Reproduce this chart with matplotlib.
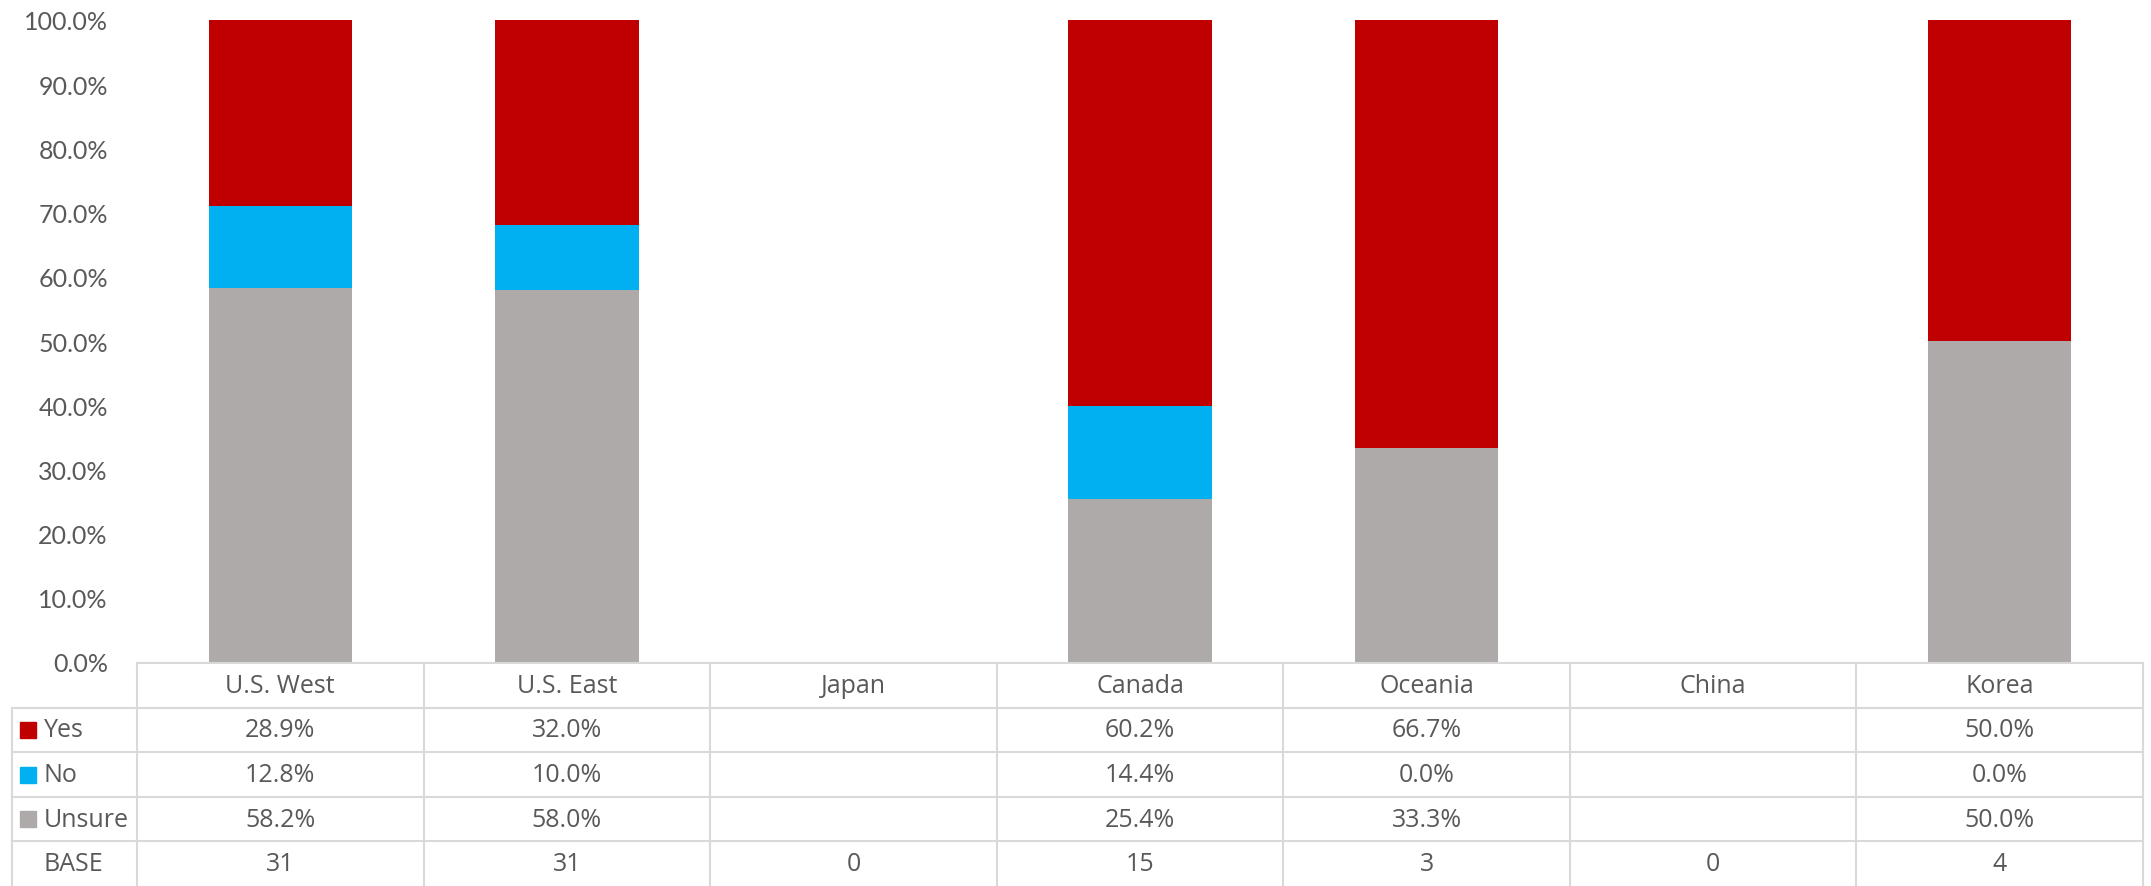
import matplotlib.pyplot as plt
import numpy as np

# data
regions = ["U.S. West", "U.S. East", "Japan", "Canada", "Oceania", "China", "Korea"]
yes = [28.9, 32.0, None, 60.2, 66.7, None, 50.0]
no = [12.8, 10.0, None, 14.4, 0.0, None, 0.0]
unsure = [58.2, 58.0, None, 25.4, 33.3, None, 50.0]
base = [31, 31, 0, 15, 3, 0, 4]
yticks = [0, 10, 20, 30, 40, 50, 60, 70, 80, 90, 100]

c_yes = "#C00000"
c_no = "#00B0F0"
c_unsure = "#AEAAAA"
txt = "#595959"
grid = "#D9D9D9"

W, H = 2151, 887
fig = plt.figure(figsize=(W / 100, H / 100), dpi=100)

# main plot area (pixel box 137..2143, 21..663)
ax = fig.add_axes([137 / W, (H - 663) / H, (2143 - 137) / W, (663 - 21) / H])
x = np.arange(len(regions))


def num(v):
    return np.array([np.nan if a is None else a for a in v])


# 100% stacked, like the excel chart
tot = num(yes) + num(no) + num(unsure)
u = num(unsure) / tot
n = num(no) / tot
y = num(yes) / tot
ax.bar(x, u, width=0.5, color=c_unsure)
ax.bar(x, n, width=0.5, bottom=u, color=c_no)
ax.bar(x, y, width=0.5, bottom=u + n, color=c_yes)

ax.set_xlim(-0.5, len(regions) - 0.5)
ax.set_ylim(0, 1)
ax.set_yticks([t / 100 for t in yticks])
ax.set_yticklabels(["%.1f%%" % t for t in yticks], fontsize=18, color=txt, family="Lato")
ax.tick_params(axis="y", length=0, pad=21)
ax.set_xticks([])
for s in ax.spines.values():
    s.set_visible(False)

# data table below
colw = (2143 - 137) / len(regions)  # px per category
legw = (137 - 12) / colw
tab = fig.add_axes([12 / W, 0, (2143 - 12) / W, (887 - 664) / H])
tab.set_xlim(-0.5 - legw, len(regions) - 0.5)
tab.set_ylim(5, 0)
tab.axis("off")

lw = 1.5
left = -0.5 - legw
right = len(regions) - 0.5
tab.plot([-0.5, right], [0, 0], color=grid, lw=lw, clip_on=False)
for r in range(1, 5):
    tab.plot([left, right], [r, r], color=grid, lw=lw, clip_on=False)
tab.plot([left, left], [1, 5], color=grid, lw=lw, clip_on=False)
for i in range(len(regions) + 1):
    tab.plot([i - 0.5, i - 0.5], [0, 5], color=grid, lw=lw, clip_on=False)

for i, name in enumerate(regions):
    tab.text(i, 0.5, name, ha="center", va="center", fontsize=18, color=txt, family="Open Sans")

rows = [("Yes", yes, c_yes), ("No", no, c_no), ("Unsure", unsure, c_unsure)]
mx = left + 16 / colw
tx = left + 32 / colw
for r, (label, vals, col) in enumerate(rows, start=1):
    tab.plot([mx], [r + 0.5], marker="s", ms=11.5, color=col, clip_on=False)
    tab.text(tx, r + 0.5, label, ha="left", va="center", fontsize=18, color=txt, family="Open Sans")
    for i, v in enumerate(vals):
        if v is not None:
            tab.text(i, r + 0.5, "%.1f%%" % v, ha="center", va="center", fontsize=18,
                     color=txt, family="Open Sans")

tab.text(tx, 4.5, "BASE", ha="left", va="center", fontsize=18, color=txt, family="Open Sans")
for i, b in enumerate(base):
    tab.text(i, 4.5, str(b), ha="center", va="center", fontsize=18, color=txt, family="Open Sans")

fig.savefig("out.png", dpi=100)
